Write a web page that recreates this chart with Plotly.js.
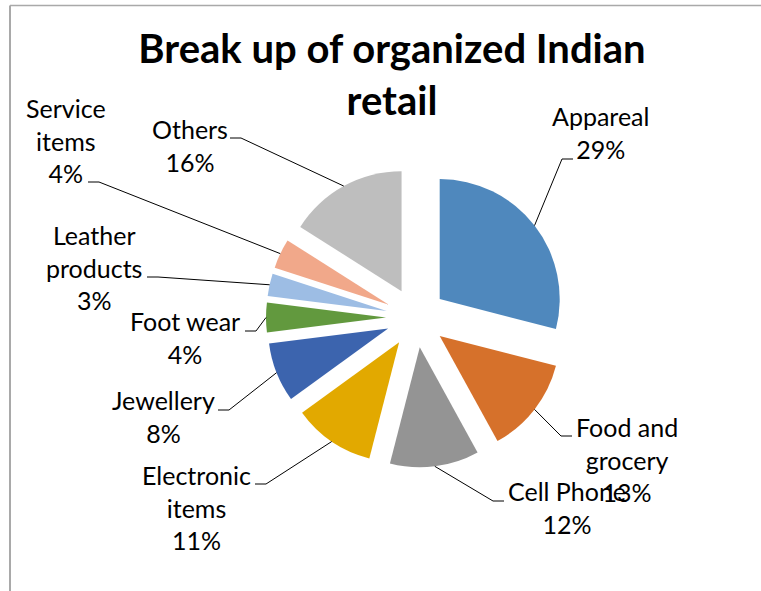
<!DOCTYPE html>
<html><head><meta charset="utf-8">
<script src="https://cdn.plot.ly/plotly-3.0.1.min.js"></script>
<style>html,body{margin:0;padding:0;background:#fff}#chart{width:761px;height:591px}</style>
</head><body><div id="chart"></div>
<script>
// ---- data ----
const categories = ["Appareal","Food and grocery","Cell Phone","Electronic items","Jewellery","Foot wear","Leather products","Service items","Others"];
const shares = [29, 13, 12, 11, 8, 4, 3, 4, 16];
const titleText = "Break up of organized Indian<br>retail";

// ---- styles / layout config ----
const sliceColors = ["#4f88bd","#d6712b","#949494","#e2a900","#3c64ae","#62993e","#9dbde4","#f1a88a","#bebebe"];
const labelWrap = ["Appareal","Food and<br>grocery","Cell Phone","Electronic<br>items","Jewellery","Foot wear","Leather<br>products","Service<br>items","Others"];
// label block centre (x,y), leader end near text (ex,ey), elbow direction
const labelPos = [
  {x:600, y:132, ex:573, ey:159, side:-1},
  {x:627, y:459, ex:572, ey:436, side:-1},
  {x:567, y:507, ex:504, ey:501, side:-1},
  {x:196, y:507, ex:255, ey:484, side:1},
  {x:163, y:416, ex:218, ey:410, side:1},
  {x:185, y:337, ex:245, ey:331, side:1},
  {x:94,  y:267, ex:147, ey:277, side:1},
  {x:66,  y:141, ex:88,  ey:182, side:1},
  {x:190, y:145, ex:230, ey:138, side:1}
];
const W = 761, H = 591;
const pie = {cx:416, cy:317.5, box:300, pull:0.25};
const elbowLen = 11;
const labelFont = {family:"Lato, 'Open Sans', sans-serif", size:25, color:"#000"};

const px = x => x / W;
const py = y => 1 - y / H;

const total = shares.reduce((a,b)=>a+b,0);
const r = (pie.box/2) / (1 + pie.pull);

const annotations = [];
const shapes = [];
let cum = 0;
shares.forEach((v,i)=>{
  const th = 2*Math.PI*(cum + v/2)/total;
  cum += v;
  const d = r*(1+pie.pull);
  const ax = pie.cx + d*Math.sin(th), ay = pie.cy - d*Math.cos(th);
  const L = labelPos[i];
  const bx = L.ex + L.side*elbowLen, by = L.ey;
  shapes.push({type:"path", xref:"paper", yref:"paper",
    path:`M ${px(ax)},${py(ay)} L ${px(bx)},${py(by)} L ${px(L.ex)},${py(L.ey)}`,
    line:{color:"#000", width:1}});
  annotations.push({xref:"paper", yref:"paper", x:px(L.x), y:py(L.y),
    xanchor:"center", yanchor:"middle", showarrow:false, align:"center",
    text: labelWrap[i] + "<br>" + Math.round(v/total*100) + "%", font:labelFont});
});

// chart frame
shapes.push({type:"line", xref:"paper", yref:"paper", x0:px(10), y0:py(5.5), x1:px(W), y1:py(5.5), line:{color:"#a9a9a9", width:1.5}});
shapes.push({type:"line", xref:"paper", yref:"paper", x0:px(10), y0:py(5.5), x1:px(10), y1:py(H), line:{color:"#a9a9a9", width:2}});

const trace = {
  type:"pie", labels:categories, values:shares, sort:false, direction:"clockwise", rotation:0,
  pull: shares.map(()=>pie.pull),
  marker:{colors:sliceColors, line:{width:0}},
  textinfo:"none", hoverinfo:"none", showlegend:false,
  domain:{x:[px(pie.cx - pie.box/2), px(pie.cx + pie.box/2)], y:[py(pie.cy + pie.box/2), py(pie.cy - pie.box/2)]}
};

const layout = {
  width:W, height:H, margin:{l:0,r:0,t:0,b:0},
  paper_bgcolor:"#fff", plot_bgcolor:"#fff", showlegend:false,
  title:{text:"<b>"+titleText+"</b>", x:392/W, xanchor:"center", y:1-63/H, yanchor:"top",
    font:{family:"Lato, 'Open Sans', sans-serif", size:40, color:"#000"}},
  annotations, shapes
};
Plotly.newPlot("chart",[trace],layout,{displayModeBar:false, staticPlot:true});
</script></body></html>
